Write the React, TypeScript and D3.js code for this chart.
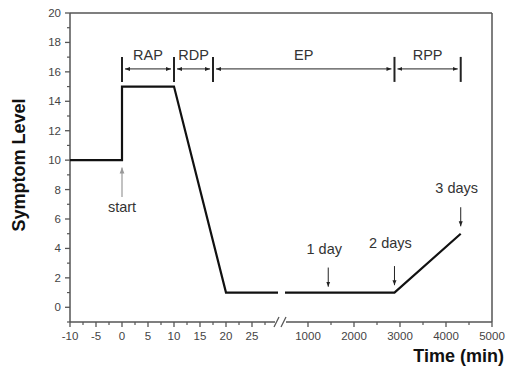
import React from "react";
import * as d3 from "d3";

const leftTimes = [-10, 0, 0, 10, 20, 30];
const leftLevels = [10, 10, 15, 15, 1, 1];
const rightTimes = [500, 2880, 4320];
const rightLevels = [1, 1, 5];

const leftTicks = [-10, -5, 0, 5, 10, 15, 20, 25];
const leftMinor = [-7.5, -2.5, 2.5, 7.5, 12.5, 17.5, 22.5, 27.5];
const rightTicks = [1000, 2000, 3000, 4000, 5000];
const rightMinor = [1500, 2500, 3500, 4500];
const yTicks = [0, 2, 4, 6, 8, 10, 12, 14, 16, 18, 20];
const yMinor = [-1, 1, 3, 5, 7, 9, 11, 13, 15, 17, 19];

// phase boundaries: [segment, time]
const phaseNames = ["RAP", "RDP", "EP", "RPP"];
const phaseBounds: [string, number][] = [["L", 0], ["L", 10], ["L", 17.5], ["R", 2880], ["R", 4320]];
const phaseLevel = 16.2;

const dayLabels = ["1 day", "2 days", "3 days"];
const dayTimes = [1440, 2880, 4320];
const dayArrowTop = [2.7, 2.8, 6.8];
const dayArrowBottom = [1.4, 1.5, 5.5];
const dayTextLevel = [3.6, 4.0, 7.8];

const W = 511, H = 367;
const L = 70, R = 492, T = 13, B = 322;

export default function App() {
  const y = d3.scaleLinear().domain([-1, 20]).range([B, T]);
  const xl = d3.scaleLinear().domain([-10, 30]).range([L, 278]);
  const xr = d3.scaleLinear().domain([500, 5000]).range([285, R]);
  const bx = (b: [string, number]) => (b[0] === "L" ? xl(b[1]) : xr(b[1]));

  const line = d3.line<[number, number]>().x((d) => d[0]).y((d) => d[1]);
  const leftPts: [number, number][] = leftTimes.map((t, i) => [xl(t), y(leftLevels[i])]);
  const rightPts: [number, number][] = rightTimes.map((t, i) => [xr(t), y(rightLevels[i])]);

  const axisCol = "#555";
  const tickCol = "#444";
  const font = "Liberation Sans, Arial, sans-serif";
  const py = y(phaseLevel);

  return (
    <svg width={W} height={H} style={{ position: "absolute", left: 0, top: 0, background: "#fff" }} fontFamily={font}>
      <defs>
        <marker id="ah" viewBox="0 0 10 10" refX="10" refY="5" markerWidth="5" markerHeight="5" orient="auto-start-reverse">
          <path d="M0,1 L10,5 L0,9 z" fill="#222" />
        </marker>
        <marker id="ahg" viewBox="0 0 10 10" refX="10" refY="5" markerWidth="5" markerHeight="5" orient="auto-start-reverse">
          <path d="M0,1 L10,5 L0,9 z" fill="#999" />
        </marker>
      </defs>
      {/* frame */}
      <line x1={L} y1={T} x2={R} y2={T} stroke={axisCol} strokeWidth={1.5} />
      <line x1={R} y1={T} x2={R} y2={B} stroke={axisCol} strokeWidth={1.5} />
      <line x1={L} y1={T} x2={L} y2={B} stroke={axisCol} strokeWidth={1.5} />
      <line x1={L} y1={B} x2={275} y2={B} stroke={axisCol} strokeWidth={1.5} />
      <line x1={286} y1={B} x2={R} y2={B} stroke={axisCol} strokeWidth={1.5} />
      <line x1={274} y1={327} x2={279} y2={317} stroke={axisCol} strokeWidth={1.3} />
      <line x1={281} y1={327} x2={286} y2={317} stroke={axisCol} strokeWidth={1.3} />

      {/* y ticks */}
      {yTicks.map((v) => (
        <g key={"y" + v}>
          <line x1={L - 5} x2={L} y1={y(v)} y2={y(v)} stroke={axisCol} strokeWidth={1.3} />
          <text x={L - 9} y={y(v) + 4} textAnchor="end" fontSize={11.5} fill={tickCol}>{v}</text>
        </g>
      ))}
      {yMinor.map((v) => (
        <line key={"ym" + v} x1={L - 3} x2={L} y1={y(v)} y2={y(v)} stroke={axisCol} strokeWidth={1.2} />
      ))}
      {/* x ticks */}
      {leftTicks.map((v) => (
        <g key={"xl" + v}>
          <line x1={xl(v)} x2={xl(v)} y1={B} y2={B + 5} stroke={axisCol} strokeWidth={1.3} />
          <text x={xl(v)} y={B + 18} textAnchor="middle" fontSize={11.5} fill={tickCol}>{v}</text>
        </g>
      ))}
      {leftMinor.map((v) => (
        <line key={"xlm" + v} x1={xl(v)} x2={xl(v)} y1={B} y2={B + 3} stroke={axisCol} strokeWidth={1.2} />
      ))}
      {rightTicks.map((v) => (
        <g key={"xr" + v}>
          <line x1={xr(v)} x2={xr(v)} y1={B} y2={B + 5} stroke={axisCol} strokeWidth={1.3} />
          <text x={xr(v)} y={B + 18} textAnchor="middle" fontSize={11.5} fill={tickCol}>{v}</text>
        </g>
      ))}
      {rightMinor.map((v) => (
        <line key={"xrm" + v} x1={xr(v)} x2={xr(v)} y1={B} y2={B + 3} stroke={axisCol} strokeWidth={1.2} />
      ))}

      {/* axis titles */}
      <text x={504} y={362} textAnchor="end" fontSize={18} fontWeight="bold" fill="#111">Time (min)</text>
      <text transform={`translate(25,${165}) rotate(-90)`} textAnchor="middle" fontSize={18} fontWeight="bold" fill="#111">Symptom Level</text>

      {/* data */}
      <path d={line(leftPts) || ""} fill="none" stroke="#111" strokeWidth={2.2} strokeLinejoin="miter" />
      <path d={line(rightPts) || ""} fill="none" stroke="#111" strokeWidth={2.2} />

      {/* phases */}
      {phaseBounds.map((b, i) => (
        <line key={"pb" + i} x1={bx(b)} x2={bx(b)} y1={py - 12} y2={py + 13} stroke="#222" strokeWidth={2} />
      ))}
      {phaseNames.map((n, i) => {
        const x1 = bx(phaseBounds[i]);
        const x2 = bx(phaseBounds[i + 1]);
        return (
          <g key={n}>
            <line x1={x1 + 3} x2={x2 - 3} y1={py} y2={py} stroke="#222" strokeWidth={1} markerStart="url(#ah)" markerEnd="url(#ah)" />
            <text x={(x1 + x2) / 2} y={py - 9} textAnchor="middle" fontSize={14.5} fill="#333">{n}</text>
          </g>
        );
      })}

      {/* start arrow */}
      <line x1={xl(0)} x2={xl(0)} y1={y(7.5)} y2={y(9.5)} stroke="#999" strokeWidth={1.2} markerEnd="url(#ahg)" />
      <text x={xl(0)} y={y(6.5)} textAnchor="middle" fontSize={14.5} fill="#333">start</text>

      {/* day arrows */}
      {dayLabels.map((d, i) => (
        <g key={d}>
          <line x1={xr(dayTimes[i])} x2={xr(dayTimes[i])} y1={y(dayArrowTop[i])} y2={y(dayArrowBottom[i])} stroke="#222" strokeWidth={1} markerEnd="url(#ah)" />
          <text x={xr(dayTimes[i]) - 4} y={y(dayTextLevel[i])} textAnchor="middle" fontSize={14.5} fill="#333">{d}</text>
        </g>
      ))}
    </svg>
  );
}
